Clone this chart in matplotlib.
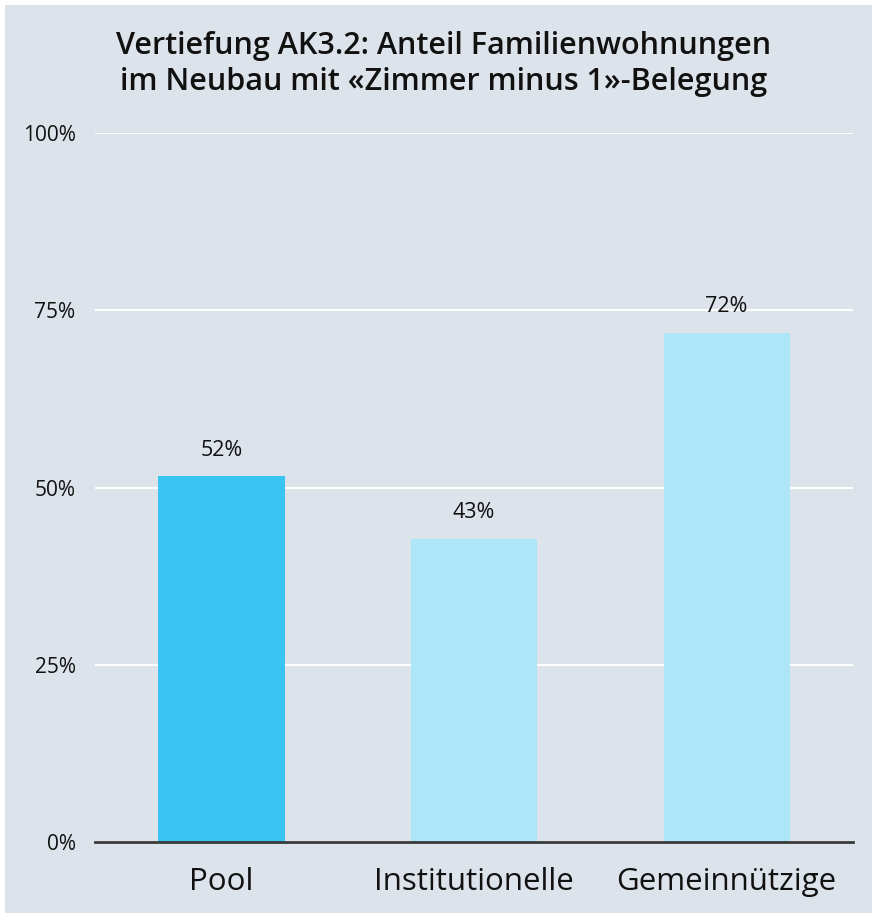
import matplotlib
matplotlib.use("Agg")
import matplotlib.pyplot as plt
from matplotlib.patches import Rectangle

categories = ["Pool", "Institutionelle", "Gemeinnützige"]
values = [51.6, 42.8, 71.8]
labels = ["52%", "43%", "72%"]
yticks = [0, 25, 50, 75, 100]
ytick_labels = ["0%", "25%", "50%", "75%", "100%"]
title = "Vertiefung AK3.2: Anteil Familienwohnungen\nim Neubau mit «Zimmer minus 1»-Belegung"

bg = "#dce3ea"
colors = ["#38c5f1", "#ade6f7", "#ade6f7"]

plt.rcParams['font.family'] = ['Open Sans', 'DejaVu Sans']

W, H = 872, 913
fig = plt.figure(figsize=(W / 100, H / 100), dpi=100)
fig.patch.set_facecolor("white")
fig.add_artist(Rectangle((5 / W, 0), 1, 1 - 5 / H, transform=fig.transFigure,
                         facecolor=bg, edgecolor="none", zorder=-10))

left, right = 95 / W, 853 / W
bottom, top = 1 - 842 / H, 1 - 133 / H
ax = fig.add_axes([left, bottom, right - left, top - bottom])
ax.set_facecolor(bg)
ax.patch.set_alpha(0)

x = list(range(len(categories)))
bars = ax.bar(x, values, width=0.5, color=colors, zorder=2)
ax.set_xlim(-0.5, 2.5)
ax.set_ylim(0, 100)

for b, lab in zip(bars, labels):
    ax.text(b.get_x() + b.get_width() / 2, b.get_height() + 2.2, lab,
            ha="center", va="bottom", fontsize=15.5, color="#111111", zorder=3)

ax.set_yticks(yticks)
ax.set_yticklabels(ytick_labels, fontsize=15, color="#111111")
ax.set_xticks(x)
ax.set_xticklabels(categories, fontsize=22.5, color="#111111", fontweight="medium")
ax.tick_params(axis="y", length=0, pad=14)
ax.tick_params(axis="x", length=0, pad=18)
ax.grid(axis="y", color="white", linewidth=1.5, zorder=0)
ax.set_axisbelow(True)
for s in ["top", "right", "left"]:
    ax.spines[s].set_visible(False)
ax.spines["bottom"].set_color("#3a3a3a")
ax.spines["bottom"].set_linewidth(2)
ax.spines["bottom"].set_zorder(4)

fig.text(444 / W, 1 - 64 / H, title, ha="center", va="center",
         fontsize=22, fontweight="semibold", color="#111111", linespacing=1.28)

fig.savefig("out.png", dpi=100, facecolor=fig.get_facecolor())
